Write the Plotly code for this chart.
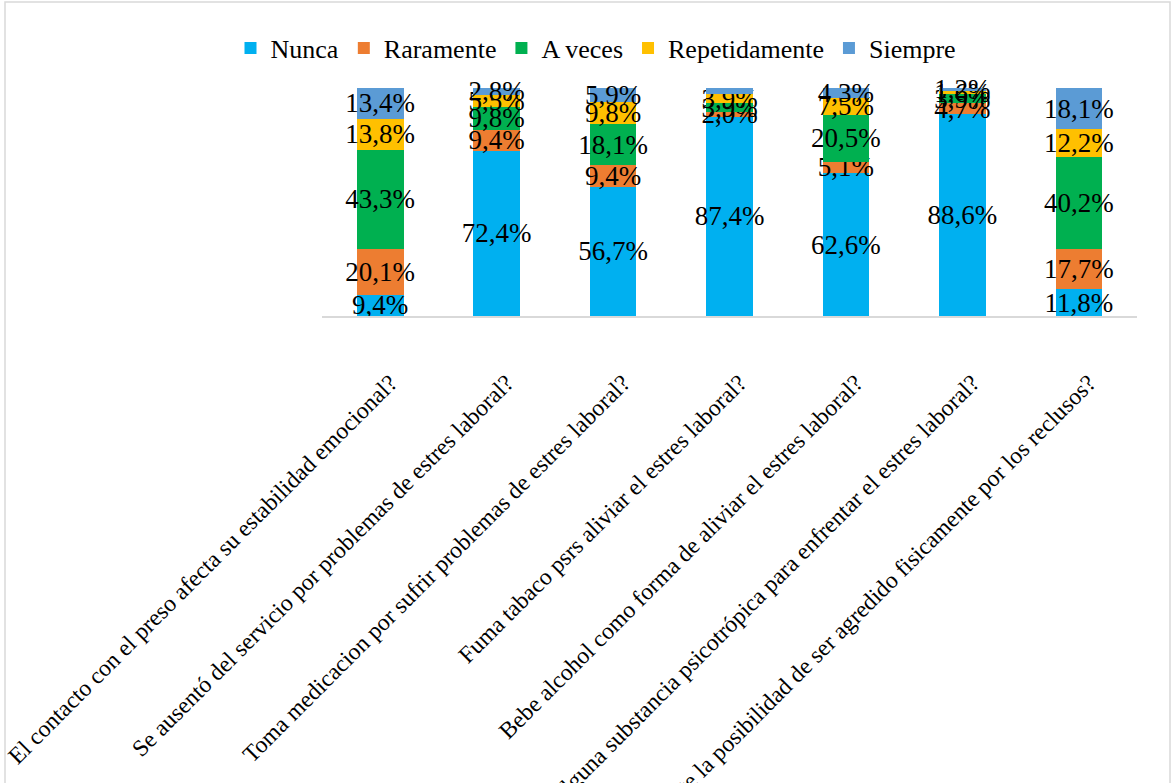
import plotly.graph_objects as go

# Survey questions (x categories)
categories = [
    "El contacto con el preso afecta su estabilidad emocional?",
    "Se ausentó del servicio por problemas de estres laboral?",
    "Toma medicacion por sufrir problemas de estres laboral?",
    "Fuma tabaco psrs aliviar el estres laboral?",
    "Bebe alcohol como forma de aliviar el estres laboral?",
    "Consume alguna substancia psicotrópica para enfrentar el estres laboral?",
    "Siente la posibilidad de ser agredido fisicamente por los reclusos?",
]

# Percentages per response option
nunca = [9.4, 72.4, 56.7, 87.4, 62.6, 88.6, 11.8]
raramente = [20.1, 9.4, 9.4, 2.0, 5.1, 4.7, 17.7]
a_veces = [43.3, 9.8, 18.1, 3.9, 20.5, 3.9, 40.2]
repetidamente = [13.8, 5.5, 9.8, 3.9, 7.5, 1.6, 12.2]
siempre = [13.4, 2.8, 5.9, 2.8, 4.3, 1.2, 18.1]

series = [
    ("Nunca", nunca, "#00B0F0"),
    ("Raramente", raramente, "#ED7D31"),
    ("A veces", a_veces, "#00B050"),
    ("Repetidamente", repetidamente, "#FFC000"),
    ("Siempre", siempre, "#5B9BD5"),
]

FONT = "Liberation Serif"

fig = go.Figure()
for name, vals, color in series:
    fig.add_trace(go.Bar(
        name=name,
        x=categories,
        y=vals,
        marker=dict(color=color, line=dict(width=0)),
        texttemplate="%{y:.1f}%",
        textposition="inside",
        insidetextanchor="middle",
        textangle=0,
        cliponaxis=False,
        textfont=dict(family=FONT, size=27, color="black"),
    ))

# Plot area geometry in pixels
W, H = 1174, 783
L, R, T, B = 322, 37, 88, 467
pw = W - L - R
ph = H - T - B


def px_x(p):
    return (p - L) / pw


def px_y(p):
    return (H - B - p) / ph


fig.update_layout(
    width=W,
    height=H,
    barmode="stack",
    bargap=0.6,
    separators=",.",
    uniformtext=dict(minsize=27, mode="show"),
    paper_bgcolor="white",
    plot_bgcolor="white",
    margin=dict(l=L, r=R, t=T, b=B, autoexpand=False),
    font=dict(family=FONT, color="black"),
    showlegend=True,
    legend=dict(
        orientation="h",
        traceorder="normal",
        x=px_x(596),
        y=px_y(48),
        xanchor="center",
        yanchor="middle",
        font=dict(family=FONT, size=26, color="black"),
        itemwidth=30,
        bgcolor="rgba(0,0,0,0)",
    ),
    xaxis=dict(
        tickangle=-45,
        tickfont=dict(family=FONT, size=23.6, color="black"),
        showline=True,
        linecolor="#d9d9d9",
        linewidth=1.5,
        ticks="",
        showgrid=False,
        automargin=False,
        ticklabelstandoff=42,
        ticklabelshift=10,
    ),
    yaxis=dict(
        range=[0, 100],
        visible=False,
        showgrid=False,
        zeroline=False,
    ),
    shapes=[
        dict(
            type="rect",
            xref="paper",
            yref="paper",
            x0=px_x(5),
            x1=px_x(1170),
            y0=px_y(790),
            y1=px_y(2),
            line=dict(color="#d9d9d9", width=1.5),
            fillcolor="rgba(0,0,0,0)",
            layer="below",
        )
    ],
)

fig.write_html("out.html")
